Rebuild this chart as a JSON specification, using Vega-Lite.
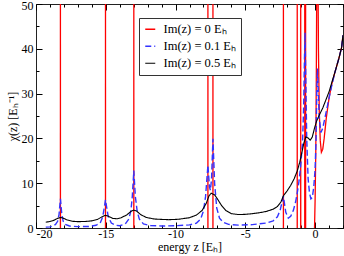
{
  "$schema": "https://vega.github.io/schema/vega-lite/v6.json",
  "width": 307,
  "height": 224,
  "autosize": {"type": "none"},
  "padding": {"left": 36, "top": 4, "right": 1, "bottom": 28},
  "config": {
    "view": {"stroke": "#222", "strokeWidth": 1},
    "font": "Liberation Serif",
    "axis": {
      "grid": false,
      "domain": false,
      "labelFont": "Liberation Serif",
      "labelFontSize": 12,
      "labelColor": "#000",
      "titleFont": "Liberation Serif",
      "titleFontSize": 12,
      "titleFontWeight": "normal",
      "titleColor": "#000",
      "tickColor": "#000",
      "tickWidth": 1
    }
  },
  "data": {
    "values": [
      {"s": "Im(z) = 0 Eₕ", "x": -20, "y": -5},
      {"s": "Im(z) = 0 Eₕ", "x": -18.252, "y": -5},
      {"s": "Im(z) = 0 Eₕ", "x": -18.25, "y": 60},
      {"s": "Im(z) = 0 Eₕ", "x": -18.248, "y": -5},
      {"s": "Im(z) = 0 Eₕ", "x": -15.022, "y": -5},
      {"s": "Im(z) = 0 Eₕ", "x": -15.02, "y": 60},
      {"s": "Im(z) = 0 Eₕ", "x": -15.018, "y": -5},
      {"s": "Im(z) = 0 Eₕ", "x": -12.992, "y": -5},
      {"s": "Im(z) = 0 Eₕ", "x": -12.99, "y": 60},
      {"s": "Im(z) = 0 Eₕ", "x": -12.988, "y": -5},
      {"s": "Im(z) = 0 Eₕ", "x": -7.682, "y": -5},
      {"s": "Im(z) = 0 Eₕ", "x": -7.68, "y": 60},
      {"s": "Im(z) = 0 Eₕ", "x": -7.678, "y": -5},
      {"s": "Im(z) = 0 Eₕ", "x": -7.322, "y": -5},
      {"s": "Im(z) = 0 Eₕ", "x": -7.32, "y": 60},
      {"s": "Im(z) = 0 Eₕ", "x": -7.318, "y": -5},
      {"s": "Im(z) = 0 Eₕ", "x": -2.272, "y": -5},
      {"s": "Im(z) = 0 Eₕ", "x": -2.27, "y": 60},
      {"s": "Im(z) = 0 Eₕ", "x": -2.268, "y": -5},
      {"s": "Im(z) = 0 Eₕ", "x": -1.282, "y": -5},
      {"s": "Im(z) = 0 Eₕ", "x": -1.28, "y": 60},
      {"s": "Im(z) = 0 Eₕ", "x": -1.278, "y": -5},
      {"s": "Im(z) = 0 Eₕ", "x": -1.032, "y": -5},
      {"s": "Im(z) = 0 Eₕ", "x": -1.03, "y": 60},
      {"s": "Im(z) = 0 Eₕ", "x": -1.028, "y": -5},
      {"s": "Im(z) = 0 Eₕ", "x": -0.742, "y": -5},
      {"s": "Im(z) = 0 Eₕ", "x": -0.74, "y": 60},
      {"s": "Im(z) = 0 Eₕ", "x": -0.738, "y": -5},
      {"s": "Im(z) = 0 Eₕ", "x": -0.682, "y": -5},
      {"s": "Im(z) = 0 Eₕ", "x": -0.68, "y": 60},
      {"s": "Im(z) = 0 Eₕ", "x": -0.678, "y": -5},
      {"s": "Im(z) = 0 Eₕ", "x": -0.1, "y": -5},
      {"s": "Im(z) = 0 Eₕ", "x": -0.04, "y": 0},
      {"s": "Im(z) = 0 Eₕ", "x": 0.0, "y": 6},
      {"s": "Im(z) = 0 Eₕ", "x": 0.05, "y": 17},
      {"s": "Im(z) = 0 Eₕ", "x": 0.09, "y": 35},
      {"s": "Im(z) = 0 Eₕ", "x": 0.12, "y": 55},
      {"s": "Im(z) = 0 Eₕ", "x": 0.14, "y": 150},
      {"s": "Im(z) = 0 Eₕ", "x": 0.17, "y": 150},
      {"s": "Im(z) = 0 Eₕ", "x": 0.2, "y": 60},
      {"s": "Im(z) = 0 Eₕ", "x": 0.24, "y": 40},
      {"s": "Im(z) = 0 Eₕ", "x": 0.3, "y": 26},
      {"s": "Im(z) = 0 Eₕ", "x": 0.37, "y": 19.5},
      {"s": "Im(z) = 0 Eₕ", "x": 0.45, "y": 16.9},
      {"s": "Im(z) = 0 Eₕ", "x": 0.55, "y": 17.6},
      {"s": "Im(z) = 0 Eₕ", "x": 0.65, "y": 20},
      {"s": "Im(z) = 0 Eₕ", "x": 0.8, "y": 24.5},
      {"s": "Im(z) = 0 Eₕ", "x": 1.0, "y": 29},
      {"s": "Im(z) = 0 Eₕ", "x": 1.2, "y": 32.2},
      {"s": "Im(z) = 0 Eₕ", "x": 1.48, "y": 35.4},
      {"s": "Im(z) = 0 Eₕ", "x": 1.7, "y": 37.8},
      {"s": "Im(z) = 0 Eₕ", "x": 1.9, "y": 40.3},
      {"s": "Im(z) = 0 Eₕ", "x": 2.0, "y": 43},

      {"s": "Im(z) = 0.1 Eₕ", "x": -19.3, "y": 0.2},
      {"s": "Im(z) = 0.1 Eₕ", "x": -19, "y": 0.25},
      {"s": "Im(z) = 0.1 Eₕ", "x": -18.8, "y": 0.45},
      {"s": "Im(z) = 0.1 Eₕ", "x": -18.6, "y": 0.8},
      {"s": "Im(z) = 0.1 Eₕ", "x": -18.45, "y": 1.5},
      {"s": "Im(z) = 0.1 Eₕ", "x": -18.35, "y": 3},
      {"s": "Im(z) = 0.1 Eₕ", "x": -18.25, "y": 6.5},
      {"s": "Im(z) = 0.1 Eₕ", "x": -18.15, "y": 3},
      {"s": "Im(z) = 0.1 Eₕ", "x": -18.05, "y": 1.5},
      {"s": "Im(z) = 0.1 Eₕ", "x": -17.9, "y": 0.8},
      {"s": "Im(z) = 0.1 Eₕ", "x": -17.6, "y": 0.45},
      {"s": "Im(z) = 0.1 Eₕ", "x": -17, "y": 0.3},
      {"s": "Im(z) = 0.1 Eₕ", "x": -16.2, "y": 0.35},
      {"s": "Im(z) = 0.1 Eₕ", "x": -15.7, "y": 0.6},
      {"s": "Im(z) = 0.1 Eₕ", "x": -15.4, "y": 1.1},
      {"s": "Im(z) = 0.1 Eₕ", "x": -15.22, "y": 2.5},
      {"s": "Im(z) = 0.1 Eₕ", "x": -15.12, "y": 4.3},
      {"s": "Im(z) = 0.1 Eₕ", "x": -15.02, "y": 6.3},
      {"s": "Im(z) = 0.1 Eₕ", "x": -14.92, "y": 4.3},
      {"s": "Im(z) = 0.1 Eₕ", "x": -14.82, "y": 2.5},
      {"s": "Im(z) = 0.1 Eₕ", "x": -14.6, "y": 1.1},
      {"s": "Im(z) = 0.1 Eₕ", "x": -14.3, "y": 0.6},
      {"s": "Im(z) = 0.1 Eₕ", "x": -14, "y": 0.5},
      {"s": "Im(z) = 0.1 Eₕ", "x": -13.6, "y": 0.9},
      {"s": "Im(z) = 0.1 Eₕ", "x": -13.35, "y": 2},
      {"s": "Im(z) = 0.1 Eₕ", "x": -13.2, "y": 3.8},
      {"s": "Im(z) = 0.1 Eₕ", "x": -13.1, "y": 7},
      {"s": "Im(z) = 0.1 Eₕ", "x": -12.99, "y": 12.8},
      {"s": "Im(z) = 0.1 Eₕ", "x": -12.88, "y": 7},
      {"s": "Im(z) = 0.1 Eₕ", "x": -12.75, "y": 3.8},
      {"s": "Im(z) = 0.1 Eₕ", "x": -12.6, "y": 2},
      {"s": "Im(z) = 0.1 Eₕ", "x": -12.3, "y": 0.9},
      {"s": "Im(z) = 0.1 Eₕ", "x": -11.8, "y": 0.55},
      {"s": "Im(z) = 0.1 Eₕ", "x": -11, "y": 0.45},
      {"s": "Im(z) = 0.1 Eₕ", "x": -10, "y": 0.5},
      {"s": "Im(z) = 0.1 Eₕ", "x": -9, "y": 0.7},
      {"s": "Im(z) = 0.1 Eₕ", "x": -8.5, "y": 1.1},
      {"s": "Im(z) = 0.1 Eₕ", "x": -8.2, "y": 2},
      {"s": "Im(z) = 0.1 Eₕ", "x": -8.0, "y": 3.8},
      {"s": "Im(z) = 0.1 Eₕ", "x": -7.85, "y": 7},
      {"s": "Im(z) = 0.1 Eₕ", "x": -7.68, "y": 14},
      {"s": "Im(z) = 0.1 Eₕ", "x": -7.57, "y": 9.2},
      {"s": "Im(z) = 0.1 Eₕ", "x": -7.5, "y": 8.4},
      {"s": "Im(z) = 0.1 Eₕ", "x": -7.42, "y": 11},
      {"s": "Im(z) = 0.1 Eₕ", "x": -7.32, "y": 19.9},
      {"s": "Im(z) = 0.1 Eₕ", "x": -7.2, "y": 10},
      {"s": "Im(z) = 0.1 Eₕ", "x": -7.05, "y": 4.5},
      {"s": "Im(z) = 0.1 Eₕ", "x": -6.85, "y": 2.2},
      {"s": "Im(z) = 0.1 Eₕ", "x": -6.6, "y": 1.3},
      {"s": "Im(z) = 0.1 Eₕ", "x": -6.2, "y": 0.8},
      {"s": "Im(z) = 0.1 Eₕ", "x": -5.5, "y": 0.65},
      {"s": "Im(z) = 0.1 Eₕ", "x": -4.5, "y": 0.75},
      {"s": "Im(z) = 0.1 Eₕ", "x": -3.5, "y": 1.1},
      {"s": "Im(z) = 0.1 Eₕ", "x": -3, "y": 1.6},
      {"s": "Im(z) = 0.1 Eₕ", "x": -2.7, "y": 2.5},
      {"s": "Im(z) = 0.1 Eₕ", "x": -2.5, "y": 4},
      {"s": "Im(z) = 0.1 Eₕ", "x": -2.27, "y": 7.1},
      {"s": "Im(z) = 0.1 Eₕ", "x": -2.1, "y": 3.5},
      {"s": "Im(z) = 0.1 Eₕ", "x": -1.92, "y": 2.2},
      {"s": "Im(z) = 0.1 Eₕ", "x": -1.75, "y": 2.6},
      {"s": "Im(z) = 0.1 Eₕ", "x": -1.55, "y": 4},
      {"s": "Im(z) = 0.1 Eₕ", "x": -1.4, "y": 5.8},
      {"s": "Im(z) = 0.1 Eₕ", "x": -1.28, "y": 7.8},
      {"s": "Im(z) = 0.1 Eₕ", "x": -1.15, "y": 10.5},
      {"s": "Im(z) = 0.1 Eₕ", "x": -1.03, "y": 14},
      {"s": "Im(z) = 0.1 Eₕ", "x": -0.9, "y": 19},
      {"s": "Im(z) = 0.1 Eₕ", "x": -0.82, "y": 27},
      {"s": "Im(z) = 0.1 Eₕ", "x": -0.76, "y": 38},
      {"s": "Im(z) = 0.1 Eₕ", "x": -0.72, "y": 43.6},
      {"s": "Im(z) = 0.1 Eₕ", "x": -0.66, "y": 32},
      {"s": "Im(z) = 0.1 Eₕ", "x": -0.6, "y": 20},
      {"s": "Im(z) = 0.1 Eₕ", "x": -0.5, "y": 11},
      {"s": "Im(z) = 0.1 Eₕ", "x": -0.4, "y": 7.8},
      {"s": "Im(z) = 0.1 Eₕ", "x": -0.3, "y": 6.5},
      {"s": "Im(z) = 0.1 Eₕ", "x": -0.2, "y": 6.8},
      {"s": "Im(z) = 0.1 Eₕ", "x": -0.1, "y": 9},
      {"s": "Im(z) = 0.1 Eₕ", "x": 0.0, "y": 13},
      {"s": "Im(z) = 0.1 Eₕ", "x": 0.07, "y": 20},
      {"s": "Im(z) = 0.1 Eₕ", "x": 0.12, "y": 30},
      {"s": "Im(z) = 0.1 Eₕ", "x": 0.17, "y": 35.6},
      {"s": "Im(z) = 0.1 Eₕ", "x": 0.22, "y": 31},
      {"s": "Im(z) = 0.1 Eₕ", "x": 0.3, "y": 24.5},
      {"s": "Im(z) = 0.1 Eₕ", "x": 0.42, "y": 21.3},
      {"s": "Im(z) = 0.1 Eₕ", "x": 0.55, "y": 22.3},
      {"s": "Im(z) = 0.1 Eₕ", "x": 0.7, "y": 24.5},
      {"s": "Im(z) = 0.1 Eₕ", "x": 0.9, "y": 27.5},
      {"s": "Im(z) = 0.1 Eₕ", "x": 1.1, "y": 30.5},
      {"s": "Im(z) = 0.1 Eₕ", "x": 1.3, "y": 33.2},
      {"s": "Im(z) = 0.1 Eₕ", "x": 1.48, "y": 35.4},
      {"s": "Im(z) = 0.1 Eₕ", "x": 1.7, "y": 37.8},
      {"s": "Im(z) = 0.1 Eₕ", "x": 1.9, "y": 40.3},
      {"s": "Im(z) = 0.1 Eₕ", "x": 2.0, "y": 43},

      {"s": "Im(z) = 0.5 Eₕ", "x": -19.3, "y": 1.3},
      {"s": "Im(z) = 0.5 Eₕ", "x": -19, "y": 1.45},
      {"s": "Im(z) = 0.5 Eₕ", "x": -18.7, "y": 1.75},
      {"s": "Im(z) = 0.5 Eₕ", "x": -18.45, "y": 2.15},
      {"s": "Im(z) = 0.5 Eₕ", "x": -18.25, "y": 2.35},
      {"s": "Im(z) = 0.5 Eₕ", "x": -18.05, "y": 2.2},
      {"s": "Im(z) = 0.5 Eₕ", "x": -17.8, "y": 1.85},
      {"s": "Im(z) = 0.5 Eₕ", "x": -17.4, "y": 1.5},
      {"s": "Im(z) = 0.5 Eₕ", "x": -17, "y": 1.42},
      {"s": "Im(z) = 0.5 Eₕ", "x": -16.5, "y": 1.45},
      {"s": "Im(z) = 0.5 Eₕ", "x": -16, "y": 1.6},
      {"s": "Im(z) = 0.5 Eₕ", "x": -15.6, "y": 1.9},
      {"s": "Im(z) = 0.5 Eₕ", "x": -15.3, "y": 2.45},
      {"s": "Im(z) = 0.5 Eₕ", "x": -15.02, "y": 2.85},
      {"s": "Im(z) = 0.5 Eₕ", "x": -14.8, "y": 2.6},
      {"s": "Im(z) = 0.5 Eₕ", "x": -14.5, "y": 2.15},
      {"s": "Im(z) = 0.5 Eₕ", "x": -14.2, "y": 2.05},
      {"s": "Im(z) = 0.5 Eₕ", "x": -13.9, "y": 2.3},
      {"s": "Im(z) = 0.5 Eₕ", "x": -13.5, "y": 2.9},
      {"s": "Im(z) = 0.5 Eₕ", "x": -13.2, "y": 3.7},
      {"s": "Im(z) = 0.5 Eₕ", "x": -13.0, "y": 4.0},
      {"s": "Im(z) = 0.5 Eₕ", "x": -12.8, "y": 3.8},
      {"s": "Im(z) = 0.5 Eₕ", "x": -12.5, "y": 3.0},
      {"s": "Im(z) = 0.5 Eₕ", "x": -12.1, "y": 2.35},
      {"s": "Im(z) = 0.5 Eₕ", "x": -11.5, "y": 2.0},
      {"s": "Im(z) = 0.5 Eₕ", "x": -10.5, "y": 1.85},
      {"s": "Im(z) = 0.5 Eₕ", "x": -9.8, "y": 1.95},
      {"s": "Im(z) = 0.5 Eₕ", "x": -9, "y": 2.3},
      {"s": "Im(z) = 0.5 Eₕ", "x": -8.5, "y": 2.9},
      {"s": "Im(z) = 0.5 Eₕ", "x": -8.1, "y": 3.9},
      {"s": "Im(z) = 0.5 Eₕ", "x": -7.8, "y": 5.5},
      {"s": "Im(z) = 0.5 Eₕ", "x": -7.6, "y": 7.2},
      {"s": "Im(z) = 0.5 Eₕ", "x": -7.45, "y": 7.75},
      {"s": "Im(z) = 0.5 Eₕ", "x": -7.2, "y": 7.4},
      {"s": "Im(z) = 0.5 Eₕ", "x": -7.0, "y": 6.5},
      {"s": "Im(z) = 0.5 Eₕ", "x": -6.7, "y": 5},
      {"s": "Im(z) = 0.5 Eₕ", "x": -6.4, "y": 3.9},
      {"s": "Im(z) = 0.5 Eₕ", "x": -6, "y": 3.2},
      {"s": "Im(z) = 0.5 Eₕ", "x": -5.5, "y": 3.0},
      {"s": "Im(z) = 0.5 Eₕ", "x": -5, "y": 3.05},
      {"s": "Im(z) = 0.5 Eₕ", "x": -4.5, "y": 3.2},
      {"s": "Im(z) = 0.5 Eₕ", "x": -4, "y": 3.4},
      {"s": "Im(z) = 0.5 Eₕ", "x": -3.5, "y": 3.7},
      {"s": "Im(z) = 0.5 Eₕ", "x": -3, "y": 4.2},
      {"s": "Im(z) = 0.5 Eₕ", "x": -2.7, "y": 4.8},
      {"s": "Im(z) = 0.5 Eₕ", "x": -2.45, "y": 5.8},
      {"s": "Im(z) = 0.5 Eₕ", "x": -2.27, "y": 7.2},
      {"s": "Im(z) = 0.5 Eₕ", "x": -2.0, "y": 8.3},
      {"s": "Im(z) = 0.5 Eₕ", "x": -1.75, "y": 9.5},
      {"s": "Im(z) = 0.5 Eₕ", "x": -1.5, "y": 11},
      {"s": "Im(z) = 0.5 Eₕ", "x": -1.28, "y": 12.7},
      {"s": "Im(z) = 0.5 Eₕ", "x": -1.1, "y": 14.7},
      {"s": "Im(z) = 0.5 Eₕ", "x": -0.95, "y": 16.8},
      {"s": "Im(z) = 0.5 Eₕ", "x": -0.8, "y": 19},
      {"s": "Im(z) = 0.5 Eₕ", "x": -0.67, "y": 20.3},
      {"s": "Im(z) = 0.5 Eₕ", "x": -0.5, "y": 20.1},
      {"s": "Im(z) = 0.5 Eₕ", "x": -0.35, "y": 19.6},
      {"s": "Im(z) = 0.5 Eₕ", "x": -0.2, "y": 20.3},
      {"s": "Im(z) = 0.5 Eₕ", "x": -0.05, "y": 22.2},
      {"s": "Im(z) = 0.5 Eₕ", "x": 0.1, "y": 23.8},
      {"s": "Im(z) = 0.5 Eₕ", "x": 0.3, "y": 25.2},
      {"s": "Im(z) = 0.5 Eₕ", "x": 0.55, "y": 26.8},
      {"s": "Im(z) = 0.5 Eₕ", "x": 0.8, "y": 28.8},
      {"s": "Im(z) = 0.5 Eₕ", "x": 1.0, "y": 30.4},
      {"s": "Im(z) = 0.5 Eₕ", "x": 1.2, "y": 32.5},
      {"s": "Im(z) = 0.5 Eₕ", "x": 1.48, "y": 35.4},
      {"s": "Im(z) = 0.5 Eₕ", "x": 1.7, "y": 37.8},
      {"s": "Im(z) = 0.5 Eₕ", "x": 1.9, "y": 40.3},
      {"s": "Im(z) = 0.5 Eₕ", "x": 2.0, "y": 43}
    ]
  },
  "resolve": {"axis": {"x": "independent", "y": "independent"}},
  "layer": [
    {
      "mark": {"type": "line", "clip": true},
      "encoding": {
        "x": {
          "field": "x", "type": "quantitative",
          "scale": {"domain": [-20, 2], "nice": false, "zero": false},
          "axis": {
            "orient": "bottom",
            "title": "energy z [Eₕ]",
            "values": [-20,-19,-18,-17,-16,-15,-14,-13,-12,-11,-10,-9,-8,-7,-6,-5,-4,-3,-2,-1,0,1,2],
            "labelExpr": "datum.value % 5 === 0 ? '' + datum.value : ''",
            "tickSize": {"condition": {"test": "datum.value % 5 === 0", "value": -6}, "value": -3},
            "labelPadding": 6,
            "titlePadding": 2
          }
        },
        "y": {
          "field": "y", "type": "quantitative",
          "scale": {"domain": [0, 50], "nice": false},
          "axis": {
            "orient": "left",
            "title": "χ(z) [Eₕ⁻¹]",
            "values": [0,5,10,15,20,25,30,35,40,45,50],
            "labelExpr": "datum.value % 10 === 0 ? '' + datum.value : ''",
            "tickSize": {"condition": {"test": "datum.value % 10 === 0", "value": -6}, "value": -3},
            "labelBaseline": {"condition": {"test": "datum.value === 50", "value": "top"}, "value": "middle"},
            "labelOffset": {"condition": {"test": "datum.value === 50", "value": -3.5}, "value": 0},
            "labelPadding": 9,
            "titlePadding": 2
          }
        },
        "color": {
          "field": "s", "type": "nominal",
          "scale": {"domain": ["Im(z) = 0 Eₕ", "Im(z) = 0.1 Eₕ", "Im(z) = 0.5 Eₕ"], "range": ["#ff0000", "#3333ff", "#000000"]},
          "legend": {"orient": "none", "legendX": 103, "legendY": 14, "title": null, "symbolType": "stroke", "symbolSize": 100, "symbolStrokeWidth": 1.5, "labelFont": "Liberation Serif", "labelFontSize": 12.5, "labelColor": "#000", "labelOffset": 7, "padding": 5, "rowPadding": 4, "strokeColor": "#333", "fillColor": "white"}
        },
        "strokeDash": {
          "field": "s", "type": "nominal",
          "scale": {"domain": ["Im(z) = 0 Eₕ", "Im(z) = 0.1 Eₕ", "Im(z) = 0.5 Eₕ"], "range": [[1, 0], [6, 3], [1, 0]]},
          "legend": {"orient": "none", "legendX": 103, "legendY": 14, "title": null, "symbolType": "stroke", "symbolSize": 100, "symbolStrokeWidth": 1.5, "labelFont": "Liberation Serif", "labelFontSize": 12.5, "labelColor": "#000", "labelOffset": 7, "padding": 5, "rowPadding": 4, "strokeColor": "#333", "fillColor": "white"}
        },
        "strokeWidth": {
          "field": "s", "type": "ordinal",
          "scale": {"type": "ordinal", "domain": ["Im(z) = 0 Eₕ", "Im(z) = 0.1 Eₕ", "Im(z) = 0.5 Eₕ"], "range": [1.3, 1.4, 1.1]},
          "legend": null
        }
      }
    },
    {
      "mark": {"type": "line", "clip": true, "strokeOpacity": 0},
      "encoding": {
        "x": {
          "field": "x", "type": "quantitative",
          "axis": {
            "orient": "top", "title": null, "labels": false,
            "values": [-20,-19,-18,-17,-16,-15,-14,-13,-12,-11,-10,-9,-8,-7,-6,-5,-4,-3,-2,-1,0,1,2],
            "tickSize": {"condition": {"test": "datum.value % 5 === 0", "value": -6}, "value": -3}
          }
        },
        "y": {
          "field": "y", "type": "quantitative",
          "axis": {
            "orient": "right", "title": null, "labels": false,
            "values": [0,5,10,15,20,25,30,35,40,45,50],
            "tickSize": {"condition": {"test": "datum.value % 10 === 0", "value": -6}, "value": -3}
          }
        },
        "detail": {"field": "s"}
      }
    }
  ]
}
